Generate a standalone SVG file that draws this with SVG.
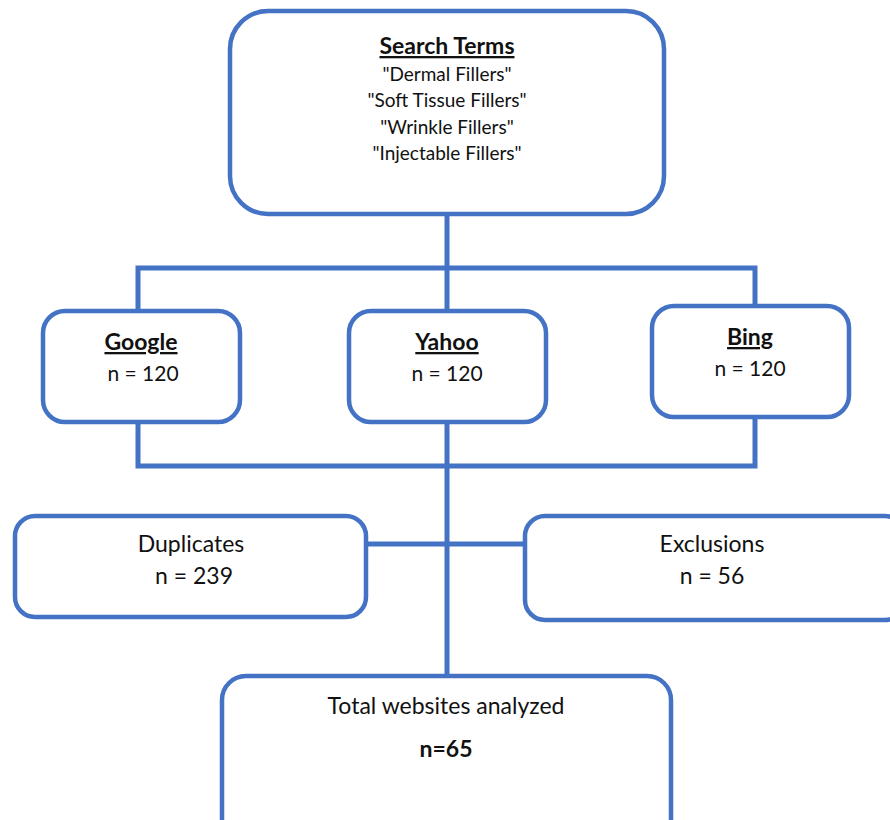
<svg xmlns="http://www.w3.org/2000/svg" width="890" height="820" viewBox="0 0 890 820">
<style>
.box{fill:#fff;stroke:#4472C4;stroke-width:4.5}
.ln{fill:none;stroke:#4472C4;stroke-width:5}
text{font-family:Lato,"Open Sans","Liberation Sans",sans-serif;fill:#111;text-anchor:middle}
.t{font-size:23px;font-weight:bold;text-decoration:underline}
.s{font-size:19px}
.n{font-size:21px}
.l{font-size:23px}
</style>
<rect width="890" height="820" fill="#fff"/>
<g id="connectors">
<line class="ln" x1="447" y1="215" x2="447" y2="310"/>
<polyline class="ln" points="138,310 138,268 755,268 755,305"/>
<polyline class="ln" points="138,422 138,466 755,466 755,417"/>
<line class="ln" x1="447" y1="422" x2="447" y2="675"/>
<line class="ln" x1="366" y1="544" x2="524" y2="544"/>
</g>
<g id="search">
<rect class="box" x="230" y="11" width="434" height="203" rx="38"/>
<text class="t" x="447" y="54" font-size="24">Search Terms</text>
<text class="s" x="447" y="81">"Dermal Fillers"</text>
<text class="s" x="447" y="107">"Soft Tissue Fillers"</text>
<text class="s" x="447" y="134">"Wrinkle Fillers"</text>
<text class="s" x="447" y="160">"Injectable Fillers"</text>
</g>
<g id="google">
<rect class="box" x="43" y="311" width="197" height="111" rx="22"/>
<text class="t" x="141" y="350">Google</text>
<text class="n" x="143" y="381">n = 120</text>
</g>
<g id="yahoo">
<rect class="box" x="349" y="311" width="197" height="111" rx="22"/>
<text class="t" x="447" y="350">Yahoo</text>
<text class="n" x="447" y="381">n = 120</text>
</g>
<g id="bing">
<rect class="box" x="652" y="306" width="197" height="111" rx="22"/>
<text class="t" x="750" y="345">Bing</text>
<text class="n" x="750" y="376">n = 120</text>
</g>
<g id="duplicates">
<rect class="box" x="15" y="516" width="351" height="101" rx="20"/>
<text class="l" x="191" y="552">Duplicates</text>
<text class="l" x="194" y="584">n = 239</text>
</g>
<g id="exclusions">
<rect class="box" x="525" y="516" width="380" height="104" rx="20"/>
<text class="l" x="712" y="552">Exclusions</text>
<text class="l" x="712" y="584">n = 56</text>
</g>
<g id="total">
<rect class="box" x="222" y="676" width="449" height="170" rx="24"/>
<text class="l" x="446" y="714">Total websites analyzed</text>
<text class="l" x="446" y="757" font-weight="bold">n=65</text>
</g>
</svg>
